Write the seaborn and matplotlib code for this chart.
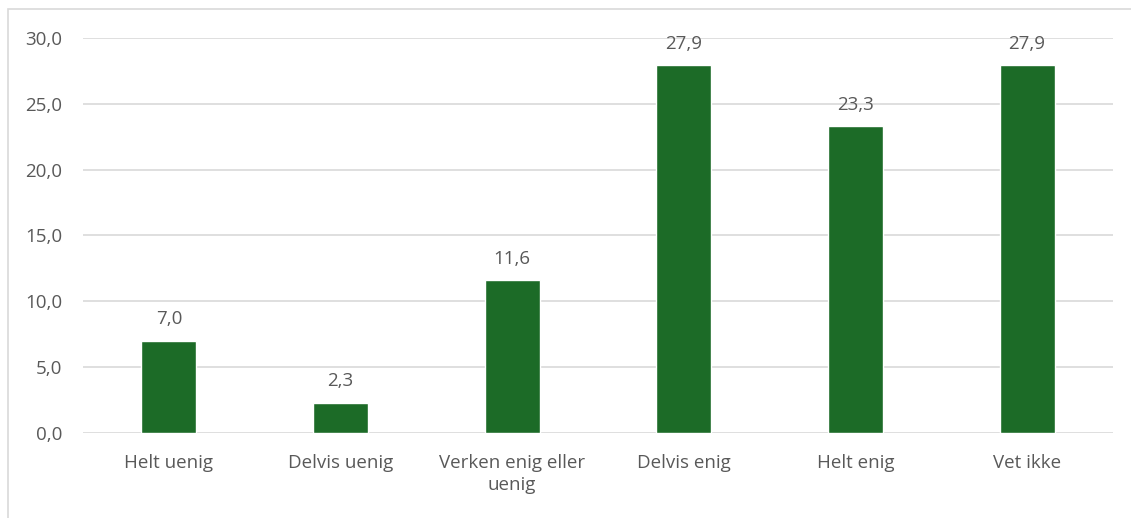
import numpy as np
import pandas as pd
import matplotlib
matplotlib.use("Agg")
import matplotlib.pyplot as plt
import seaborn as sns
from matplotlib.patches import Rectangle

# data
categories = ["Helt uenig", "Delvis uenig", "Verken enig eller\nuenig",
              "Delvis enig", "Helt enig", "Vet ikke"]
values = [7.0, 2.3, 11.6, 27.9, 23.3, 27.9]

BAR_COLOR = "#1C6B27"
TEXT_COLOR = "#595959"
GRID_COLOR = "#D9D9D9"
FS = 13.5

sns.set_theme(style="white")
plt.rcParams["font.family"] = ["Open Sans", "DejaVu Sans"]

df = pd.DataFrame({"kategori": categories, "verdi": values})

fig = plt.figure(figsize=(11.31, 5.18), dpi=100)
ax = fig.add_axes([0.0734, 0.164, 0.9106, 0.763])

sns.barplot(data=df, x="kategori", y="verdi", color=BAR_COLOR,
            width=0.32, saturation=1, ax=ax, zorder=3)

ax.set_ylim(0, 30)
ax.set_yticks(np.arange(0, 31, 5))
ax.set_yticklabels([f"{v:.1f}".replace(".", ",") for v in np.arange(0, 31, 5)])
ax.set_xlim(-0.5, len(categories) - 0.5)
ax.grid(axis="y", color=GRID_COLOR, linewidth=1.2, zorder=0)
for s in ax.spines.values():
    s.set_visible(False)
ax.set_xlabel("")
ax.set_ylabel("")
ax.tick_params(axis="both", length=0, colors=TEXT_COLOR, labelsize=FS)
ax.tick_params(axis="x", pad=15)
ax.tick_params(axis="y", pad=15)
for lbl in ax.get_xticklabels():
    lbl.set_linespacing(1.3)

for p, v in zip(ax.patches, values):
    ax.annotate(f"{v:.1f}".replace(".", ","),
                (p.get_x() + p.get_width() / 2, p.get_height()),
                xytext=(0, 9), textcoords="offset points",
                ha="center", va="bottom", fontsize=FS, color=TEXT_COLOR)

# light outer frame of the chart area
fig.patches.append(Rectangle((8 / 1131, -0.1), 1.2, 1 - 9 / 518 + 0.1,
                             transform=fig.transFigure, fill=False,
                             edgecolor="#D9D9D9", linewidth=1.2))

fig.savefig("out.png", dpi=100, facecolor="white")
